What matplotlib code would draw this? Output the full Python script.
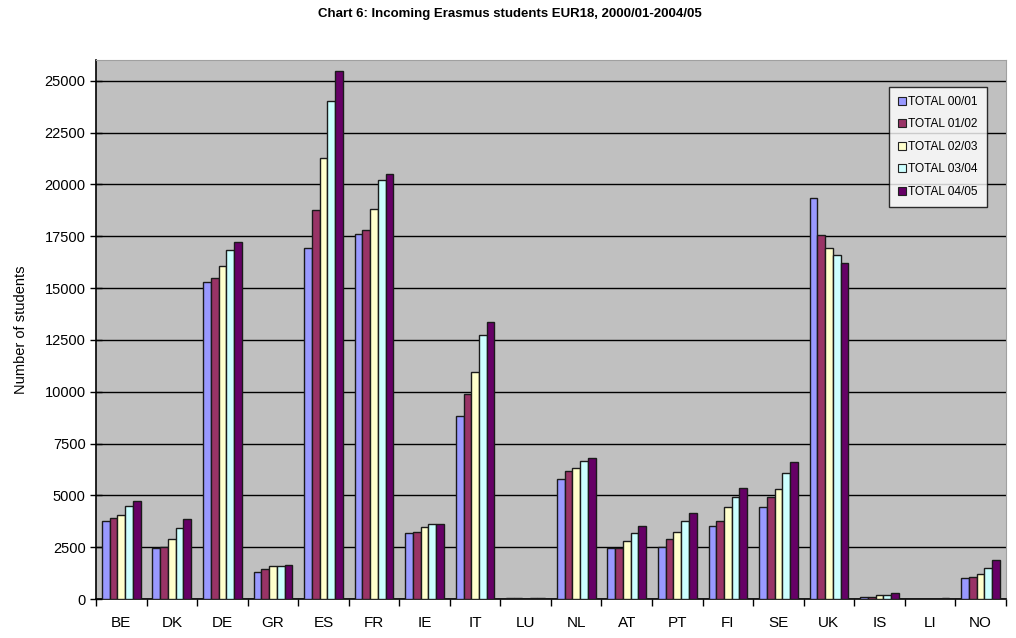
import numpy as np
import matplotlib.pyplot as plt
from matplotlib.patches import Patch

plt.rcParams['font.family'] = ['Liberation Sans', 'DejaVu Sans']

countries = ['BE', 'DK', 'DE', 'GR', 'ES', 'FR', 'IE', 'IT', 'LU', 'NL',
             'AT', 'PT', 'FI', 'SE', 'UK', 'IS', 'LI', 'NO']
series = ['TOTAL 00/01', 'TOTAL 01/02', 'TOTAL 02/03', 'TOTAL 03/04', 'TOTAL 04/05']

y0001 = [3760, 2450, 15270, 1290, 16950, 17600, 3170, 8850, 50, 5790,
         2450, 2520, 3540, 4430, 19340, 110, 0, 1000]
y0102 = [3900, 2510, 15480, 1430, 18770, 17810, 3250, 9890, 50, 6180,
         2450, 2900, 3760, 4940, 17580, 110, 0, 1080]
y0203 = [4050, 2900, 16050, 1580, 21270, 18820, 3460, 10970, 0, 6310,
         2810, 3250, 4430, 5290, 16950, 190, 0, 1220]
y0304 = [4490, 3410, 16850, 1580, 24020, 20220, 3600, 12740, 50, 6680,
         3170, 3760, 4920, 6100, 16570, 190, 0, 1510]
y0405 = [4730, 3850, 17230, 1640, 25470, 20510, 3600, 13380, 50, 6820,
         3540, 4140, 5360, 6600, 16220, 275, 50, 1880]

colors = ['#9999FF', '#993366', '#FFFFCC', '#CCFFFF', '#660066']
data = [y0001, y0102, y0203, y0304, y0405]

fig = plt.figure(figsize=(10.16, 6.38), dpi=100)
ax = fig.add_axes([0.0945, 0.0611, 0.8955, 0.8449])
ax.set_facecolor('#C0C0C0')

x = np.arange(len(countries))
w = 0.153
for i, (vals, c, lab) in enumerate(zip(data, colors, series)):
    ax.bar(x + (i - 2) * w, vals, width=w, color=c, edgecolor='#1a1a1a',
           linewidth=1.0, label=lab, zorder=3)

ax.set_xlim(-0.5, len(countries) - 0.5)
ax.set_ylim(0, 26000)
ax.set_yticks(np.arange(0, 25001, 2500))
ax.yaxis.grid(True, color='black', linewidth=1.0, zorder=1)
ax.set_axisbelow(True)

ax.set_xticks(x)
ax.set_xticklabels(countries, fontsize=11)
ax.set_xticks(np.arange(-0.5, len(countries), 1), minor=True)
ax.tick_params(axis='x', which='major', length=0, pad=12)
ax.tick_params(axis='x', which='minor', length=5, direction='out', width=1)
ax.tick_params(axis='y', labelsize=10.5, direction='inout', length=8, width=1)

for s in ['left', 'bottom']:
    ax.spines[s].set_color('black')
    ax.spines[s].set_linewidth(1.2)
for s in ['top', 'right']:
    ax.spines[s].set_color('#A0A0A0')

ax.set_ylabel('Number of students', fontsize=10.5, labelpad=12)
fig.text(0.502, 0.978, 'Chart 6: Incoming Erasmus students EUR18, 2000/01-2004/05',
         ha='center', va='center', fontsize=9.5, fontweight='bold')

handles = [Patch(facecolor=c, edgecolor='#222222', linewidth=0.8) for c in colors]
leg = ax.legend(handles, series, loc='upper right', bbox_to_anchor=(0.979, 0.950),
                fontsize=8.6, frameon=True, fancybox=False, handlelength=0.75,
                handleheight=0.7, handletextpad=0.15, labelspacing=0.88,
                borderpad=0.75, borderaxespad=0)
leg.get_frame().set_edgecolor('black')
leg.get_frame().set_linewidth(1.0)
leg.get_frame().set_facecolor('white')

fig.savefig('out.png', dpi=100)
